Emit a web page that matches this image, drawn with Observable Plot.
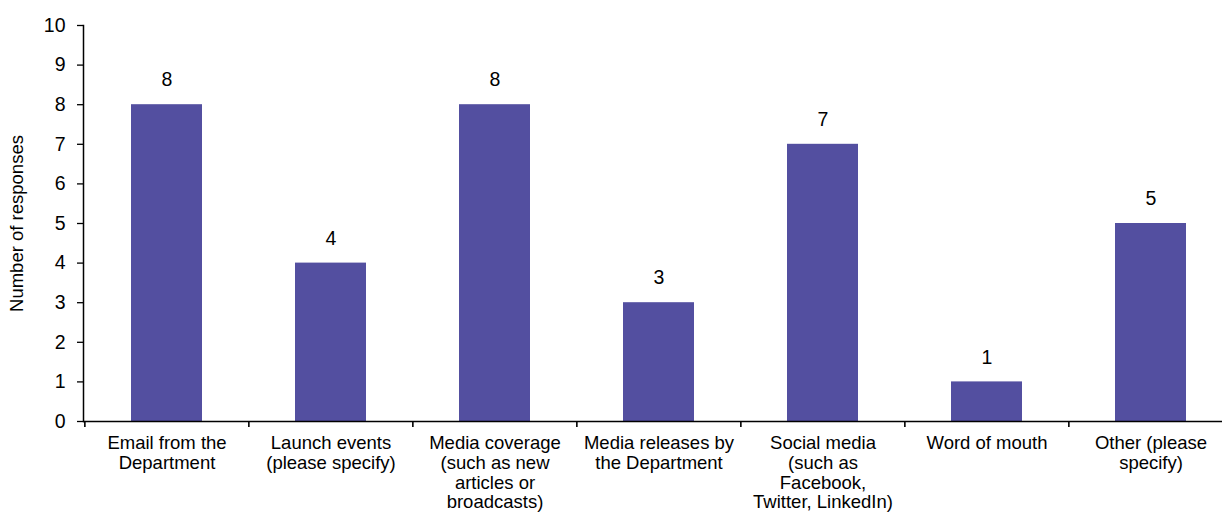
<!DOCTYPE html>
<html>
<head>
<meta charset="utf-8">
<script src="https://cdn.jsdelivr.net/npm/d3@7"></script>
<script src="https://cdn.jsdelivr.net/npm/@observablehq/plot@0.6"></script>
<style>
  html, body { margin: 0; padding: 0; background: #fff; overflow: hidden; }
  #chart { width: 1222px; height: 522px; overflow: hidden; }
</style>
</head>
<body>
<div id="chart"></div>
<script>
const categories = [
  "Email from the\nDepartment",
  "Launch events\n(please specify)",
  "Media coverage\n(such as new\narticles or\nbroadcasts)",
  "Media releases by\nthe Department",
  "Social media\n(such as\nFacebook,\nTwitter, LinkedIn)",
  "Word of mouth",
  "Other (please\nspecify)"
];
const values = [8, 4, 8, 3, 7, 1, 5];
const yTicks = [0, 1, 2, 3, 4, 5, 6, 7, 8, 9, 10];
const yTitle = "Number of responses";

const data = categories.map((c, i) => ({cat: c, value: values[i]}));

const W = 1222, H = 522, mL = 83, mR = -11;
const step = (W - mR - mL) / categories.length;
const PAD = 0.568;

const chart = Plot.plot({
  width: W,
  height: H,
  marginLeft: mL,
  marginRight: mR,
  marginTop: 25,
  marginBottom: 101,
  style: {fontFamily: "Liberation Sans, Arial, sans-serif", color: "#000", background: "#fff", overflow: "hidden"},
  x: {type: "band", domain: categories, paddingInner: PAD, paddingOuter: PAD / 2, align: 0.5},
  y: {domain: [0, 10]},
  marks: [
    Plot.barY(data, {x: "cat", y: "value", fill: "#534FA0"}),
    Plot.text(data, {x: "cat", y: "value", text: d => String(d.value), dy: -24.5, fontSize: 19.5, fill: "#000"}),
    Plot.axisY({ticks: yTicks, tickSize: 6, tickPadding: 12, fontSize: 19.5, label: null, tickFormat: d => String(d), strokeWidth: 1.3}),
    Plot.axisX({tickSize: 0, tickPadding: 14, fontSize: 18.5, label: null, lineHeight: 1.06}),
    Plot.axisX({tickSize: 6, dx: -step / 2, tickFormat: () => "", label: null, strokeWidth: 1.6}),
    Plot.ruleY([0], {stroke: "#000", strokeWidth: 1.5}),
    Plot.frame({anchor: "left", stroke: "#000", strokeWidth: 1.5}),
    Plot.text([yTitle], {frameAnchor: "left", textAnchor: "middle", rotate: -90, dx: -66, fontSize: 18.5, fill: "#000"})
  ]
});
document.getElementById("chart").appendChild(chart);
</script>
</body>
</html>
